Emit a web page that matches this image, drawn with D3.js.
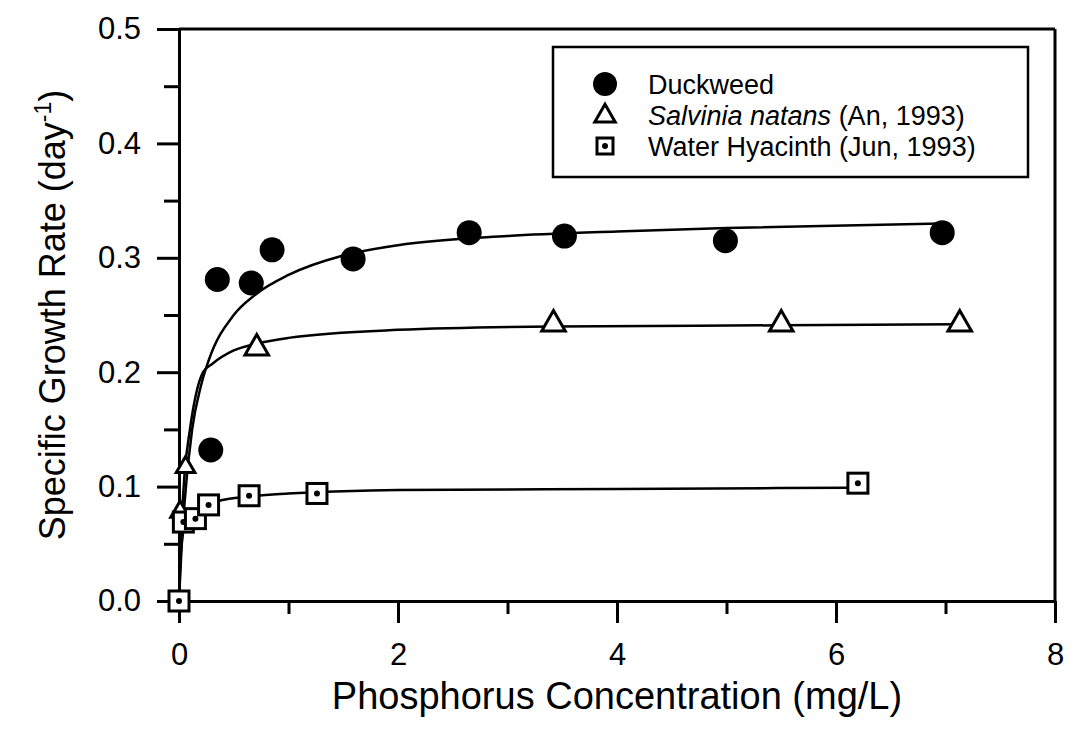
<!DOCTYPE html>
<html>
<head>
<meta charset="utf-8">
<script src="https://cdn.jsdelivr.net/npm/d3@7"></script>
<style>
  body { margin: 0; background: #fff; }
  text { font-family: "Liberation Sans", Arial, sans-serif; fill: #000; }
</style>
</head>
<body>
<svg id="chart" width="1080" height="732"></svg>
<script>
// measured points (P in mg/L, growth rate in 1/day)
var duckweedP  = [0.29, 0.35, 0.66, 0.85, 1.59, 2.65, 3.52, 4.99, 6.97];
var duckweedMu = [0.132, 0.281, 0.278, 0.307, 0.299, 0.322, 0.319, 0.315, 0.322];

var salviniaP  = [0.01, 0.06, 0.71, 3.42, 5.50, 7.13];
var salviniaMu = [0.078, 0.117, 0.221, 0.242, 0.242, 0.242];

var hyacinthP  = [0, 0.04, 0.15, 0.27, 0.64, 1.26, 6.20];
var hyacinthMu = [0, 0.069, 0.072, 0.084, 0.092, 0.094, 0.103];

// fitted curves
var duckFitP  = [0, 0.02, 0.05, 0.12, 0.2, 0.27, 0.5, 0.7, 1.0, 1.5, 2.0, 3.0, 4.0, 5.0, 6.97];
var duckFitMu = [0, 0.04, 0.085, 0.15, 0.188, 0.21, 0.25, 0.268, 0.285, 0.302, 0.311, 0.319, 0.323, 0.326, 0.330];

var salvFitP  = [0, 0.01, 0.02, 0.05, 0.1, 0.22, 0.3, 0.5, 0.71, 1.0, 2.0, 3.42, 5.5, 7.13];
var salvFitMu = [0, 0.035, 0.06, 0.11, 0.15, 0.20, 0.207, 0.219, 0.225, 0.230, 0.237, 0.240, 0.241, 0.242];

var hyaFitP  = [0, 0.01, 0.03, 0.07, 0.15, 0.3, 0.6, 1.0, 1.5, 2.0, 4.0, 6.1];
var hyaFitMu = [0, 0.03, 0.055, 0.07, 0.079, 0.086, 0.091, 0.094, 0.096, 0.097, 0.098, 0.099];

var xTicks = [0, 2, 4, 6, 8];
var xMinor = [1, 3, 5, 7];
var yTicks = [0.0, 0.1, 0.2, 0.3, 0.4, 0.5];
var yMinor = [0.05, 0.15, 0.25, 0.35, 0.45];

var legendNames = ["Duckweed", "Salvinia natans", "Water Hyacinth (Jun, 1993)"];

var svg = d3.select("#chart");

var x = d3.scaleLinear().domain([0, 8]).range([179, 1055]);
var y = d3.scaleLinear().domain([0, 0.5]).range([601, 29]);

function zip(a, b) { return a.map(function (v, i) { return [v, b[i]]; }); }

// axes
svg.append("g").attr("transform", "translate(" + x(0) + ",0)")
  .call(d3.axisLeft(y).tickValues(yTicks).tickSize(22).tickSizeOuter(0)
    .tickPadding(16).tickFormat(d3.format(".1f")));
svg.append("g").attr("transform", "translate(" + x(0) + ",0)")
  .call(d3.axisLeft(y).tickValues(yMinor).tickSize(15).tickSizeOuter(0).tickFormat(""))
  .select(".domain").remove();

svg.append("g").attr("transform", "translate(0," + y(0) + ")")
  .call(d3.axisBottom(x).tickValues(xTicks).tickSize(22).tickSizeOuter(0)
    .tickPadding(20).tickFormat(d3.format("d")));
svg.append("g").attr("transform", "translate(0," + y(0) + ")")
  .call(d3.axisBottom(x).tickValues(xMinor).tickSize(13).tickSizeOuter(0).tickFormat(""))
  .select(".domain").remove();

svg.selectAll(".domain, .tick line").attr("stroke", "#000").attr("stroke-width", 3);
svg.selectAll(".tick text").style("font-size", "31px").attr("fill", "#000");

// frame top and right
svg.append("line").attr("x1", x(0)).attr("x2", x(8)).attr("y1", y(0.5)).attr("y2", y(0.5))
  .attr("stroke", "#000").attr("stroke-width", 3);
svg.append("line").attr("x1", x(8)).attr("x2", x(8)).attr("y1", y(0.5)).attr("y2", y(0))
  .attr("stroke", "#000").attr("stroke-width", 3);

// titles
svg.append("text").attr("x", (x(0) + x(8)) / 2).attr("y", 709)
  .attr("text-anchor", "middle").style("font-size", "38px")
  .text("Phosphorus Concentration (mg/L)");

var yt = svg.append("text")
  .attr("transform", "translate(65," + (y(0) + y(0.5)) / 2 + ") rotate(-90)")
  .attr("text-anchor", "middle").style("font-size", "36px");
yt.append("tspan").text("Specific Growth Rate (day");
yt.append("tspan").attr("dy", -14).style("font-size", "23px").text("-1");
yt.append("tspan").attr("dy", 14).text(")");

// fitted curves
var line = d3.line().x(function (d) { return x(d[0]); }).y(function (d) { return y(d[1]); })
  .curve(d3.curveMonotoneX);
[zip(duckFitP, duckFitMu), zip(salvFitP, salvFitMu), zip(hyaFitP, hyaFitMu)].forEach(function (pts) {
  svg.append("path").attr("d", line(pts)).attr("fill", "none")
    .attr("stroke", "#000").attr("stroke-width", 2.5);
});

// markers
function drawCircle(g, cx, cy, r) {
  g.append("circle").attr("cx", cx).attr("cy", cy).attr("r", r).attr("fill", "#000");
}
function drawTriangle(g, cx, cy, s) {
  g.append("path").attr("d", d3.symbol().type(d3.symbolTriangle).size(s)())
    .attr("transform", "translate(" + cx + "," + cy + ")")
    .attr("fill", "#fff").attr("stroke", "#000").attr("stroke-width", 3);
}
function drawSquare(g, cx, cy, w) {
  g.append("rect").attr("x", cx - w / 2).attr("y", cy - w / 2).attr("width", w).attr("height", w)
    .attr("fill", "#fff").attr("stroke", "#000").attr("stroke-width", 3);
  g.append("circle").attr("cx", cx).attr("cy", cy).attr("r", 3).attr("fill", "#000");
}

var marks = svg.append("g");
zip(salviniaP, salviniaMu).forEach(function (d, i) {
  drawTriangle(marks, x(d[0]), y(d[1]), i < 2 ? 150 : 240);
});
zip(duckweedP, duckweedMu).forEach(function (d) { drawCircle(marks, x(d[0]), y(d[1]), 12.5); });
zip(hyacinthP, hyacinthMu).forEach(function (d) { drawSquare(marks, x(d[0]), y(d[1]), 20); });

// legend
var lg = svg.append("g");
lg.append("rect").attr("x", 553).attr("y", 47).attr("width", 475).attr("height", 130)
  .attr("fill", "#fff").attr("stroke", "#000").attr("stroke-width", 2.5);
var rowY = [84, 115, 146];
drawCircle(lg, 605, rowY[0], 12);
drawTriangle(lg, 605, rowY[1] + 1, 180);
drawSquare(lg, 605, rowY[2], 16);

var lx = 648;
lg.append("text").attr("x", lx).attr("y", rowY[0] + 10).style("font-size", "27px").text(legendNames[0]);
var t2 = lg.append("text").attr("x", lx).attr("y", rowY[1] + 10).style("font-size", "27px");
t2.append("tspan").style("font-style", "italic").text(legendNames[1]);
t2.append("tspan").text(" (An, 1993)");
lg.append("text").attr("x", lx).attr("y", rowY[2] + 10).style("font-size", "27px").text(legendNames[2]);
</script>
</body>
</html>
